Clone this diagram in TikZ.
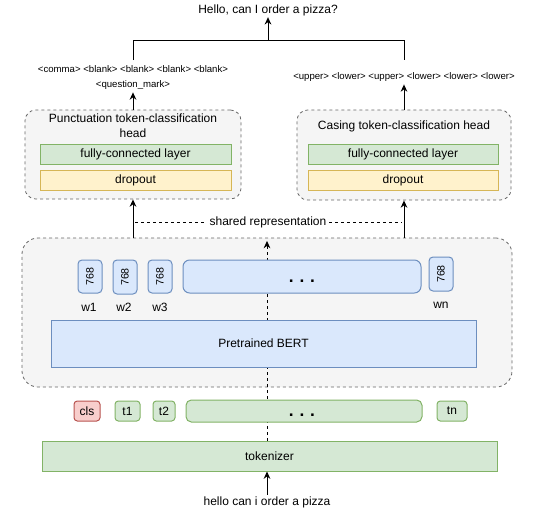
\documentclass[tikz,border=0pt]{standalone}
\usepackage{fontspec}
\setmainfont{Liberation Sans}
\usetikzlibrary{arrows.meta}
\definecolor{grayfill}{HTML}{F5F5F5}
\definecolor{graydraw}{HTML}{666666}
\definecolor{greenfill}{HTML}{D5E8D4}
\definecolor{greendraw}{HTML}{82B366}
\definecolor{yellowfill}{HTML}{FFF2CC}
\definecolor{yellowdraw}{HTML}{D6B656}
\definecolor{bluefill}{HTML}{DAE8FC}
\definecolor{bluedraw}{HTML}{6C8EBF}
\definecolor{redfill}{HTML}{F8CECC}
\definecolor{reddraw}{HTML}{B85450}
\tikzset{
  sz/.style 2 args={minimum width=#1*0.75pt, minimum height=#2*0.75pt, inner sep=0pt},
  txt/.style={font=\fontsize{9}{11}\selectfont, inner sep=1pt},
  small/.style={font=\fontsize{7.2}{11.2}\selectfont, inner sep=1pt, align=center},
  group/.style={draw=graydraw, fill=grayfill, dash pattern=on 2.25pt off 2.25pt, line width=0.6pt},
  greenbox/.style={draw=greendraw, fill=greenfill, line width=0.75pt, font=\fontsize{9}{11}\selectfont},
  yellowbox/.style={draw=yellowdraw, fill=yellowfill, line width=0.75pt, font=\fontsize{9}{11}\selectfont},
  bluebox/.style={draw=bluedraw, fill=bluefill, line width=0.75pt, font=\fontsize{9}{11}\selectfont},
  redbox/.style={draw=reddraw, fill=redfill, line width=0.75pt, font=\fontsize{9}{11}\selectfont},
  vec/.style={bluebox, rounded corners=3pt, font=\fontsize{8}{10}\selectfont},
  tokbox/.style={greenbox, rounded corners=2.5pt},
  conn/.style={line width=0.75pt, draw=black},
  arr/.style={conn, -{Stealth[length=5.5pt,width=5pt]}},
  dots/.style={font=\fontsize{13}{13}\bfseries\selectfont}
}
\begin{document}
\begin{tikzpicture}[x=0.75pt, y=-0.75pt]
\useasboundingbox (0,0) rectangle (537,511);
% tokenizer and BERT group, with the dashed backbone behind the inner boxes
\node[greenbox, sz={455}{30}] (tok) at (269.5,456) {tokenizer};
\node[group, rounded corners=12pt, sz={490}{149}] (outer) at (267,312.5) {};
\draw[conn, dash pattern=on 2.25pt off 2.25pt, -{Stealth[length=5.5pt,width=5pt]}] (tok.north -| outer.north) -- ([yshift=-2.5pt]outer.north);

% BERT group contents
\node[vec, sz={24}{33}] (v1) at (90,276.5) {\rotatebox{90}{768}};
\node[vec, sz={24}{34}] (v2) at (125,277) {\rotatebox{90}{768}};
\node[vec, sz={24}{33}] (v3) at (160,276.5) {\rotatebox{90}{768}};
\node[vec, rounded corners=5pt, sz={238}{33}] (vdots) at (302,276.5) {};
\node[dots] (vdl) at (302,281) {.\,\,.\,\,.};
\node[vec, sz={24}{34}] (vn) at (441,274) {\rotatebox{90}{768}};
\node[txt] (w1) at (89,307) {w1};
\node[txt] (w2) at (124,307) {w2};
\node[txt] (w3) at (160,307) {w3};
\node[txt] (wn) at (441,305) {wn};
\node[bluebox, sz={425}{47}] (bert) at (263.5,343.5) {Pretrained BERT};

% token row
\node[redbox, rounded corners=2.5pt, sz={26}{20}] (cls) at (87,411) {cls};
\node[tokbox, sz={25}{20}] (t1) at (127.5,411) {t1};
\node[tokbox, sz={22}{20}] (t2) at (164,411) {t2};
\node[tokbox, rounded corners=4pt, sz={236}{22}] (tdots) at (304,411) {};
\node[dots] (tdl) at (302,415) {.\,\,.\,\,.};
\node[tokbox, sz={30}{20}] (tn) at (452,411) {tn};

% input
\node[txt] (input) at (267,502) {hello can i order a pizza};
\draw[arr] (input.north) -- (input.north |- tok.south);

% heads
\node[group, rounded corners=8pt, sz={216}{89}] (phead) at (133,154.5) {};
\node[txt, align=center, font=\fontsize{9}{11.3}\selectfont] (ptitle) at (133,125.5) {Punctuation token-classification\\head};
\node[greenbox, sz={191}{20}] (pfc) at (135.5,154) {fully-connected layer};
\node[yellowbox, sz={191}{20}] (pdrop) at (135.5,180) {dropout};

\node[group, rounded corners=8pt, sz={214}{90}] (chead) at (404,155) {};
\node[txt] (ctitle) at (404,126.5) {Casing token-classification head};
\node[greenbox, sz={190}{20}] (cfc) at (403,154) {fully-connected layer};
\node[yellowbox, sz={190}{20}] (cdrop) at (403,180) {dropout};

% shared representation
\draw[arr] (outer.north -| phead.south) -- (phead.south);
\draw[arr] (outer.north -| chead.south) -- (chead.south);
\node[txt, fill=white, inner sep=2pt] (shared) at (268,222) {shared representation};
\coordinate (sl) at (135,222);
\coordinate (sr) at (402,222);
\draw[conn, dash pattern=on 2.25pt off 2.25pt] (sl) -- (sl -| shared.west);
\draw[conn, dash pattern=on 2.25pt off 2.25pt] (shared.east |- sr) -- (sr);

% label outputs
\node[small, inner sep=0pt] (plab) at (133,77.5) {<comma> <blank> <blank> <blank> <blank>\\<question\_mark>};
\node[small] (clab) at (404,77) {<upper> <lower> <upper> <lower> <lower> <lower>};
\draw[arr] (phead.north) -- ([yshift=-2pt]plab.south);
\draw[arr] (chead.north) -- ([yshift=-1pt]clab.south);

% merge
\node[txt] (out) at (268,10) {Hello, can I order a pizza?};
\coordinate (jl) at (133,40);
\coordinate (jr) at (404,40);
\coordinate (jm) at (268,40);
\coordinate (pl) at (133,60);
\coordinate (cl) at (404,60);
\draw[conn] (pl) -- (jl) -- (jr) -- (cl);
\draw[arr] (jm) -- (out.south);
\end{tikzpicture}
\end{document}
